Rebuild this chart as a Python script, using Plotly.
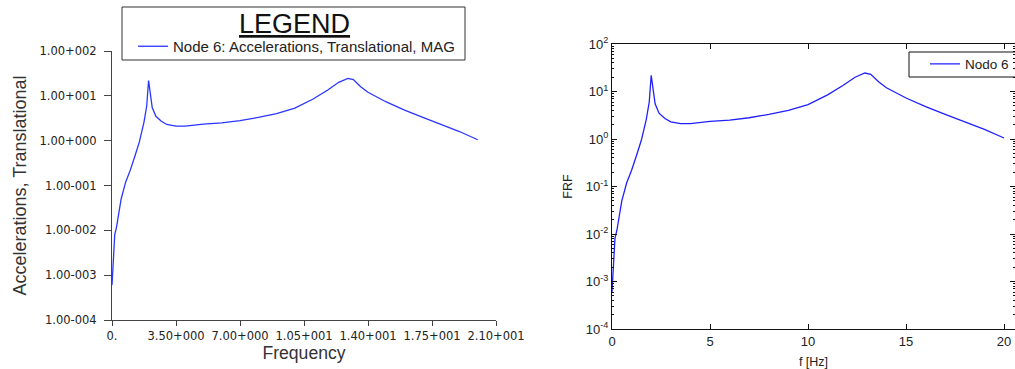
import plotly.graph_objects as go

# Data (frequency in Hz, magnitude)
freq = [0.0, 0.05, 0.1, 0.15, 0.25, 0.35, 0.5, 0.75, 1.0, 1.25, 1.5, 1.75, 1.9, 2.0,
        2.08, 2.2, 2.4, 2.7, 3.0, 3.5, 4.0, 5.0, 6.0, 7.0, 8.0, 9.0, 10.0, 11.0,
        11.8, 12.4, 12.9, 13.2, 13.6, 14.0, 15.0, 16.0, 17.0, 18.0, 19.0, 20.0]
mag = [6e-4, 1.5e-3, 3.5e-3, 8e-3, 0.012, 0.022, 0.05, 0.12, 0.22, 0.45, 0.95, 2.6, 6.0, 22.0,
       12.0, 5.5, 3.5, 2.7, 2.3, 2.1, 2.1, 2.35, 2.5, 2.8, 3.3, 4.0, 5.3, 8.5,
       13.5, 20.0, 24.5, 23.0, 16.0, 12.0, 7.3, 4.8, 3.3, 2.3, 1.6, 1.05]

left_xticks = [0, 3.5, 7.0, 10.5, 14.0, 17.5, 21.0]
left_xlabels = ["0.", "3.50+000", "7.00+000", "1.05+001", "1.40+001", "1.75+001", "2.10+001"]
yticks = [1e-4, 1e-3, 1e-2, 1e-1, 1e0, 1e1, 1e2]
left_ylabels = ["1.00-004", "1.00-003", "1.00-002", "1.00-001", "1.00+000", "1.00+001", "1.00+002"]
right_xticks = [0, 5, 10, 15, 20]
right_ylabels = ["10<sup>-4</sup>", "10<sup>-3</sup>", "10<sup>-2</sup>", "10<sup>-1</sup>",
                 "10<sup>0</sup>", "10<sup>1</sup>", "10<sup>2</sup>"]
minor_y = [m * 10 ** e for e in range(-4, 2) for m in range(2, 10)]

W, H = 1015, 369
FONT = "Liberation Sans, Arial, sans-serif"
TICKFONT_L = "DejaVu Sans, Verdana, sans-serif"


def px(xp):
    return xp / W


def py(yp):
    return 1 - yp / H


fig = go.Figure()
fig.add_trace(go.Scatter(x=freq, y=mag, mode="lines", name="Node 6: Accelerations, Translational, MAG",
                         line=dict(color="#2a36ff", width=1.3), xaxis="x", yaxis="y", legend="legend"))
fig.add_trace(go.Scatter(x=freq, y=mag, mode="lines", name="Nodo 6",
                         line=dict(color="#2020ff", width=1.3), xaxis="x2", yaxis="y2", legend="legend2"))

fig.update_layout(
    width=W, height=H,
    margin=dict(l=0, r=0, t=0, b=0),
    paper_bgcolor="white", plot_bgcolor="white",
    font=dict(family=FONT, color="#222"),
    showlegend=True,
    xaxis=dict(domain=[px(112), px(496)], range=[0, 21], anchor="y",
               tickmode="array", tickvals=left_xticks, ticktext=left_xlabels,
               ticks="outside", ticklen=5, tickcolor="#444", showline=True, linecolor="#444",
               linewidth=1, showgrid=False, zeroline=False, automargin=False,
               tickfont=dict(family=TICKFONT_L, size=11.5, color="#222"),
               title=dict(text="Frequency", font=dict(size=17.6, color="#333"), standoff=4)),
    yaxis=dict(domain=[py(320), py(51)], type="log", range=[-4, 2], anchor="x",
               tickmode="array", tickvals=yticks, ticktext=left_ylabels,
               ticks="outside", ticklen=7, tickcolor="#444", showline=True, linecolor="#444",
               linewidth=1, showgrid=False, zeroline=False, automargin=False,
               ticklabelstandoff=5,
               tickfont=dict(family=TICKFONT_L, size=11.5, color="#222"),
               title=dict(text="Accelerations, Translational", font=dict(size=18, color="#333"), standoff=8)),
    xaxis2=dict(domain=[px(612), 1.0], range=[0, 20.56], anchor="y2",
                tickmode="array", tickvals=right_xticks,
                ticks="inside", ticklen=5, tickcolor="#111", showline=True, linecolor="#111",
                linewidth=1, mirror="ticks", showgrid=False, zeroline=False, automargin=False,
                tickfont=dict(size=13, color="#222"),
                title=dict(text="f [Hz]", font=dict(size=12.5, color="#222"), standoff=9)),
    yaxis2=dict(domain=[py(329), py(44)], type="log", range=[-4, 2], anchor="x2",
                tickmode="array", tickvals=yticks, ticktext=right_ylabels,
                ticks="inside", ticklen=5, tickcolor="#111", showline=True, linecolor="#111",
                linewidth=1, mirror="ticks", showgrid=False, zeroline=False, automargin=False,
                minor=dict(ticks="inside", ticklen=2, tickcolor="#111", tickmode="array", tickvals=minor_y),
                tickfont=dict(size=13, color="#222"),
                title=dict(text="FRF", font=dict(size=12.5, color="#222"), standoff=10)),
    legend=dict(x=px(133), y=py(30), xanchor="left", yanchor="top",
                borderwidth=0, bgcolor="rgba(0,0,0,0)",
                font=dict(size=15, color="#222")),
    legend2=dict(x=px(925), y=py(48.5), xanchor="left", yanchor="top",
                 borderwidth=0, bgcolor="rgba(0,0,0,0)",
                 font=dict(size=13.5, color="#222")),
    shapes=[
        dict(type="rect", xref="paper", yref="paper", x0=px(122), x1=px(465), y0=py(60), y1=py(7),
             line=dict(color="#333", width=1), fillcolor="rgba(0,0,0,0)", layer="above"),
        dict(type="rect", xref="paper", yref="paper", x0=px(909), x1=px(1030), y0=py(77), y1=py(52),
             line=dict(color="#111", width=1), fillcolor="rgba(0,0,0,0)", layer="above"),
    ],
    annotations=[
        dict(text="<u>LEGEND</u>", xref="paper", yref="paper", x=px(294), y=py(24),
             xanchor="center", yanchor="middle", showarrow=False,
             font=dict(size=27, color="#111")),
    ],
)

fig.write_html("out.html", config={"displayModeBar": False},
               post_script="document.body.style.margin='0';")
